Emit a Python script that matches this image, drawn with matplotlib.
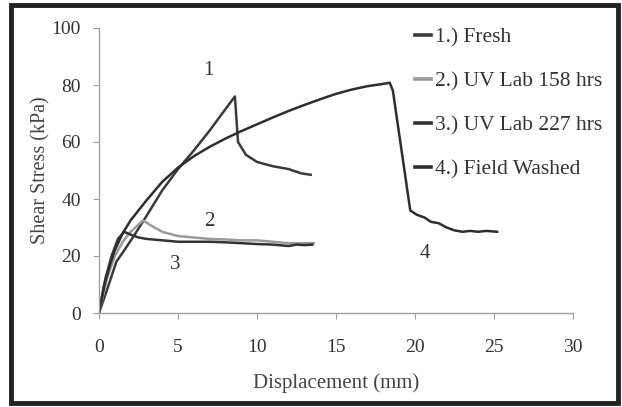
import matplotlib
matplotlib.use("Agg")
from matplotlib import pyplot as plt
from matplotlib.patches import Rectangle

plt.rcParams['font.family'] = ['Liberation Serif', 'DejaVu Serif']

# shear stress vs displacement, four specimens
fresh_x = [0, 0.5, 1.1, 1.6, 2.2, 3, 4, 5, 6, 7, 8, 8.6, 8.7, 8.8, 9.3, 10, 11, 12, 12.8, 13.4]
fresh_y = [0, 8, 18, 22, 27, 34, 43, 50.5, 57, 64, 71.5, 76, 68, 60, 55.5, 53, 51.5, 50.5, 49, 48.5]

uv158_x = [0, 0.5, 1, 1.5, 2, 2.5, 2.8, 3.2, 4, 5, 6, 7, 8, 9, 10, 11, 12, 13, 13.6]
uv158_y = [0, 12, 20, 25, 28.5, 31, 32.5, 31, 28.5, 27, 26.5, 26, 25.8, 25.5, 25.5, 25, 24.5, 24.5, 24.5]

uv227_x = [0, 0.4, 0.8, 1.2, 1.6, 2.0, 2.5, 3, 4, 5, 6, 7, 8, 9, 10, 11, 12, 12.5, 13, 13.5]
uv227_y = [0, 12, 20, 26, 28.5, 27.5, 26.5, 26, 25.5, 25, 25, 25, 24.8, 24.5, 24.2, 24, 23.5, 24, 23.8, 24]

field_x = [0, 0.3, 0.7, 1.0, 1.5, 2, 3, 4, 5, 6, 7, 8, 9, 10, 11, 12, 13, 14, 15, 16, 17, 18,
           18.4, 18.6, 19.7, 20.1, 20.6, 21, 21.5, 22, 22.5, 23, 23.5, 24, 24.5, 25.2]
field_y = [0, 9, 17, 22, 28, 32.5, 39.5, 46, 51, 55, 58.3, 61.2, 63.8, 66.2, 68.6, 70.9, 73, 75, 76.9, 78.4, 79.6, 80.4,
           80.8, 78, 36, 34.5, 33.5, 32, 31.5, 30, 29, 28.5, 28.8, 28.5, 28.8, 28.5]

series = [
    (fresh_x, fresh_y, "1.) Fresh", "#3a3a3a"),
    (uv158_x, uv158_y, "2.) UV Lab 158 hrs", "#9a9a9a"),
    (uv227_x, uv227_y, "3.) UV Lab 227 hrs", "#333333"),
    (field_x, field_y, "4.) Field Washed", "#2e2e2e"),
]

# curve numbers written next to each line
tags = ["1", "2", "3", "4"]
tag_x = [6.9, 7.0, 4.8, 20.6]
tag_y = [85, 32, 17, 21]


def main():
    fig = plt.figure(figsize=(6.22, 4.07), dpi=100)
    ax = fig.add_axes([99 / 622, 94 / 407, 474 / 622, 285 / 407])

    for x, y, label, color in series:
        ax.plot(x, y, color=color, lw=1.8, label=label, solid_joinstyle="round")

    for t, tx, ty in zip(tags, tag_x, tag_y):
        ax.text(tx, ty, t, fontsize=15, color="#333333", ha="center", va="center")

    ax.set_xlim(0, 30)
    ax.set_ylim(0, 100)
    ax.set_xticks(range(0, 31, 5))
    ax.set_yticks(range(0, 101, 20))
    for side in ("top", "right"):
        ax.spines[side].set_visible(False)
    for side in ("left", "bottom"):
        ax.spines[side].set_color("#a0a0a0")
        ax.spines[side].set_linewidth(1.0)
    ax.tick_params(axis="both", colors="#a0a0a0", labelcolor="#333333", labelsize=14, length=4)
    ax.tick_params(axis="x", pad=15)
    ax.tick_params(axis="y", pad=9)

    ax.set_xlabel("Displacement (mm)", fontsize=15, color="#444444", labelpad=12)
    ax.set_ylabel("Shear Stress (kPa)", fontsize=14.5, color="#444444", labelpad=1)

    leg = ax.legend(loc="upper left", bbox_to_anchor=(415 / 622, 1 - 27 / 407),
                    bbox_transform=fig.transFigure, frameon=False, fontsize=15.5,
                    borderpad=0, borderaxespad=0,
                    handlelength=0.75, handletextpad=0.2, labelspacing=1.12)
    for line in leg.get_lines():
        line.set_linewidth(2.6)
    for txt in leg.get_texts():
        txt.set_color("#333333")

    fig.patches.append(Rectangle((11 / 622, 4 / 407), 607 / 622, 398 / 407, transform=fig.transFigure,
                                 fill=False, edgecolor="#222222", linewidth=3.5))

    fig.savefig("out.png", dpi=100)


if __name__ == '__main__':
    main()
